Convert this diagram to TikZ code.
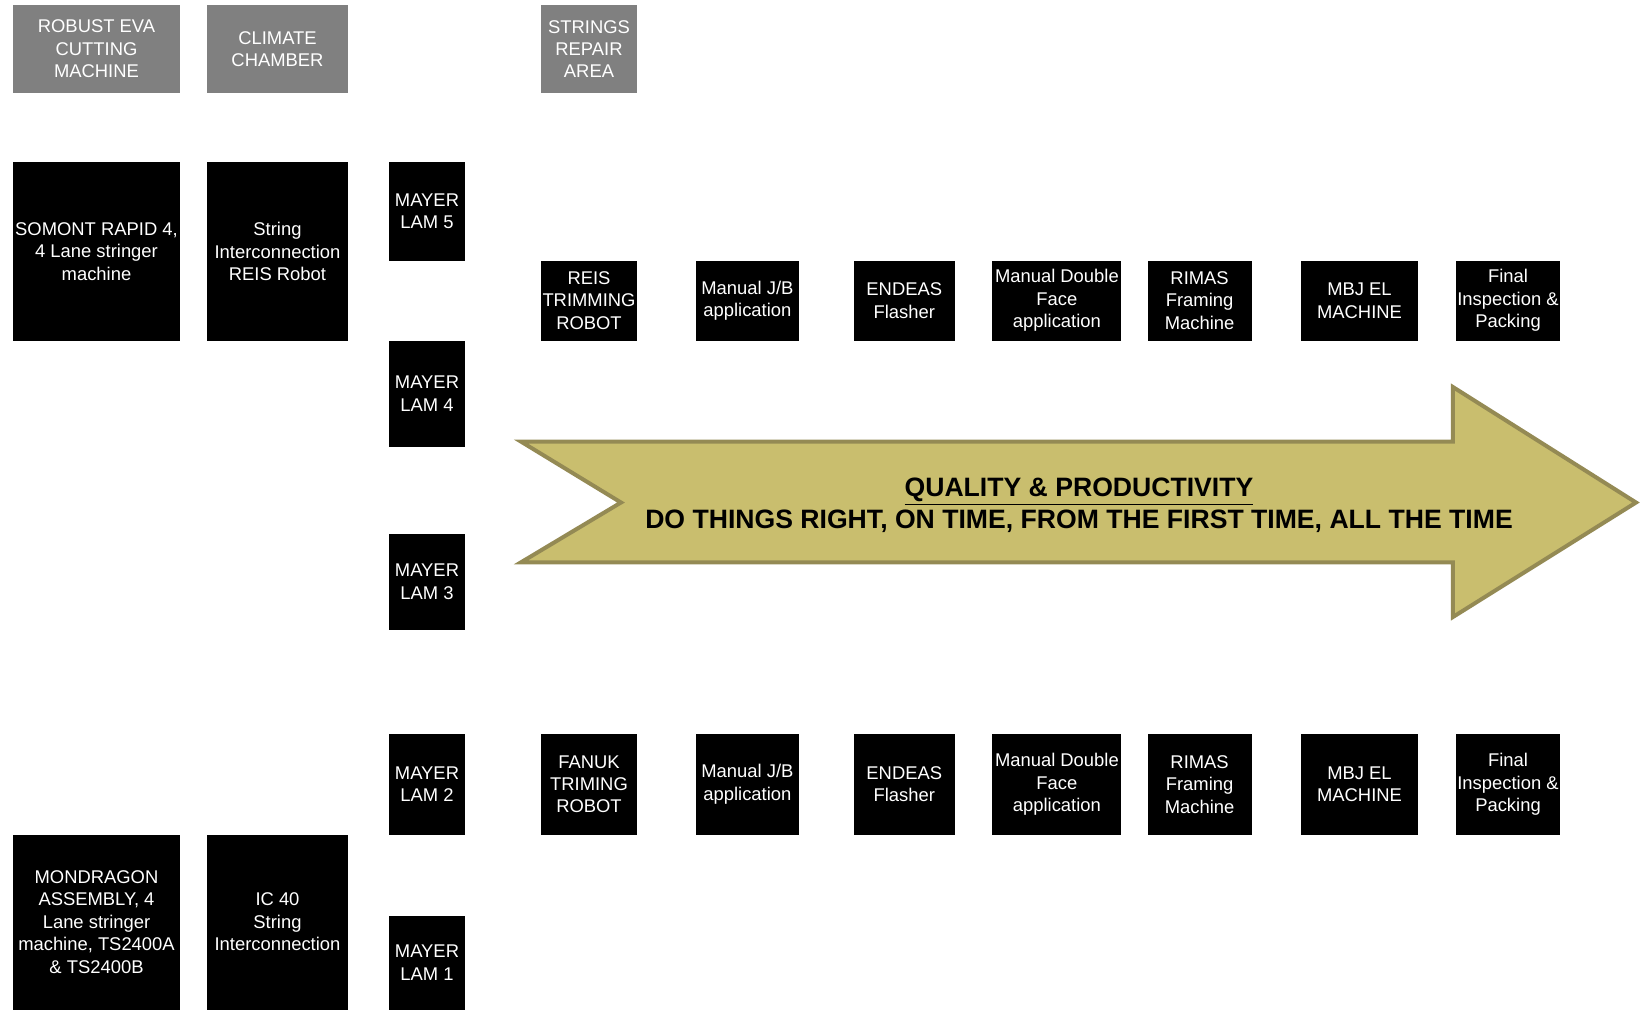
\documentclass[tikz,border=0pt]{standalone}
\usepackage{fontspec}
\setmainfont{Liberation Sans}
\definecolor{boxgray}{HTML}{808080}
\definecolor{arrowfill}{HTML}{C9BE6E}
\definecolor{arrowline}{HTML}{948A54}
\begin{document}
\begin{tikzpicture}[
        x=0.5pt, y=-0.5pt,
        station/.style={inner sep=0pt, align=center, text=white, font=\fontsize{9.2}{11.2}\selectfont},
        blackbox/.style={station, fill=black},
        graybox/.style={station, fill=boxgray},
        lam/.style={blackbox, minimum width=37.7pt},
        upper/.style={blackbox, minimum height=39.9pt},
        lower/.style={blackbox, minimum height=50.3pt}
    ]
        \useasboundingbox (0,0) rectangle (1645,1009);

        % Vẽ các ô xám phía trên
        \node[graybox, minimum width=83.9pt, minimum height=44pt] (eva) at (96.5,49) {ROBUST EVA\\CUTTING\\MACHINE};
        \node[graybox, minimum width=70.8pt, minimum height=44pt] (climate) at (277.5,49) {CLIMATE\\CHAMBER};
        \node[graybox, minimum width=47.7pt, minimum height=44pt] (repair) at (589,49) {STRINGS\\REPAIR\\AREA};

        % Các máy hàn chuỗi
        \node[blackbox, minimum width=83.9pt, minimum height=89.2pt] (somont) at (96.5,251.5) {SOMONT RAPID 4,\\4 Lane stringer\\machine};
        \node[blackbox, minimum width=70.8pt, minimum height=89.2pt] (reisbot) at (277.5,251.5) {String\\Interconnection\\REIS Robot};
        \node[blackbox, minimum width=83.9pt, minimum height=87.5pt] (mondragon) at (96.5,922) {MONDRAGON\\ASSEMBLY, 4\\Lane stringer\\machine, TS2400A\\\& TS2400B};
        \node[blackbox, minimum width=70.8pt, minimum height=87.5pt] (ic40) at (277.5,922) {IC 40\\String\\Interconnection};

        % Các máy ép
        \node[lam, minimum height=49.3pt] (lam5) at (427,211.5) {MAYER\\LAM 5};
        \node[lam, minimum height=53pt] (lam4) at (427,393.5) {MAYER\\LAM 4};
        \node[lam, minimum height=48.2pt] (lam3) at (427,581.8) {MAYER\\LAM 3};
        \node[lam, minimum height=50.3pt] (lam2) at (427,784.3) {MAYER\\LAM 2};
        \node[lam, minimum height=47pt] (lam1) at (427,962.5) {MAYER\\LAM 1};

        % Dây chuyền trên
        \node[upper, minimum width=47.7pt] (trimA) at (589,300.6) {REIS\\TRIMMING\\ROBOT};
        \node[upper, minimum width=51.9pt] (jbA) at (747.4,300.6) {Manual J/B\\application};
        \node[upper, minimum width=50.3pt] (endeasA) at (904.3,300.6) {ENDEAS\\Flasher};
        \node[upper, minimum width=64.5pt] (doubleA) at (1056.9,300.6) {Manual Double\\Face\\application};
        \node[upper, minimum width=52pt] (rimasA) at (1199.6,300.6) {RIMAS\\Framing\\Machine};
        \node[upper, minimum width=58.7pt] (mbjA) at (1359.5,300.6) {MBJ EL\\MACHINE};
        \node[upper, minimum width=52pt] (finalA) at (1508,300.6) {Final\\Inspection \&\\Packing};

        % Dây chuyền dưới
        \node[lower, minimum width=47.7pt] (trimB) at (589,784.3) {FANUK\\TRIMING\\ROBOT};
        \node[lower, minimum width=51.9pt] (jbB) at (747.4,784.3) {Manual J/B\\application};
        \node[lower, minimum width=50.3pt] (endeasB) at (904.3,784.3) {ENDEAS\\Flasher};
        \node[lower, minimum width=64.5pt] (doubleB) at (1056.9,784.3) {Manual Double\\Face\\application};
        \node[lower, minimum width=52pt] (rimasB) at (1199.6,784.3) {RIMAS\\Framing\\Machine};
        \node[lower, minimum width=58.7pt] (mbjB) at (1359.5,784.3) {MBJ EL\\MACHINE};
        \node[lower, minimum width=52pt] (finalB) at (1508,784.3) {Final\\Inspection \&\\Packing};

        % Mũi tên chất lượng
        \draw[fill=arrowfill, draw=arrowline, line width=2pt, line join=miter]
            (521,441.6) -- (1452.9,441.6) -- (1452.9,387) -- (1636,502.5)
            -- (1452.9,617) -- (1452.9,562.3) -- (521,562.3) -- (621,502.5) -- cycle;
        \node[align=center, inner sep=0pt, font=\fontsize{13.3}{16}\selectfont\bfseries] (motto) at (1079,505)
            {\underline{QUALITY \& PRODUCTIVITY}\\DO THINGS RIGHT, ON TIME, FROM THE FIRST TIME, ALL THE TIME};
    \end{tikzpicture}
\end{document}
